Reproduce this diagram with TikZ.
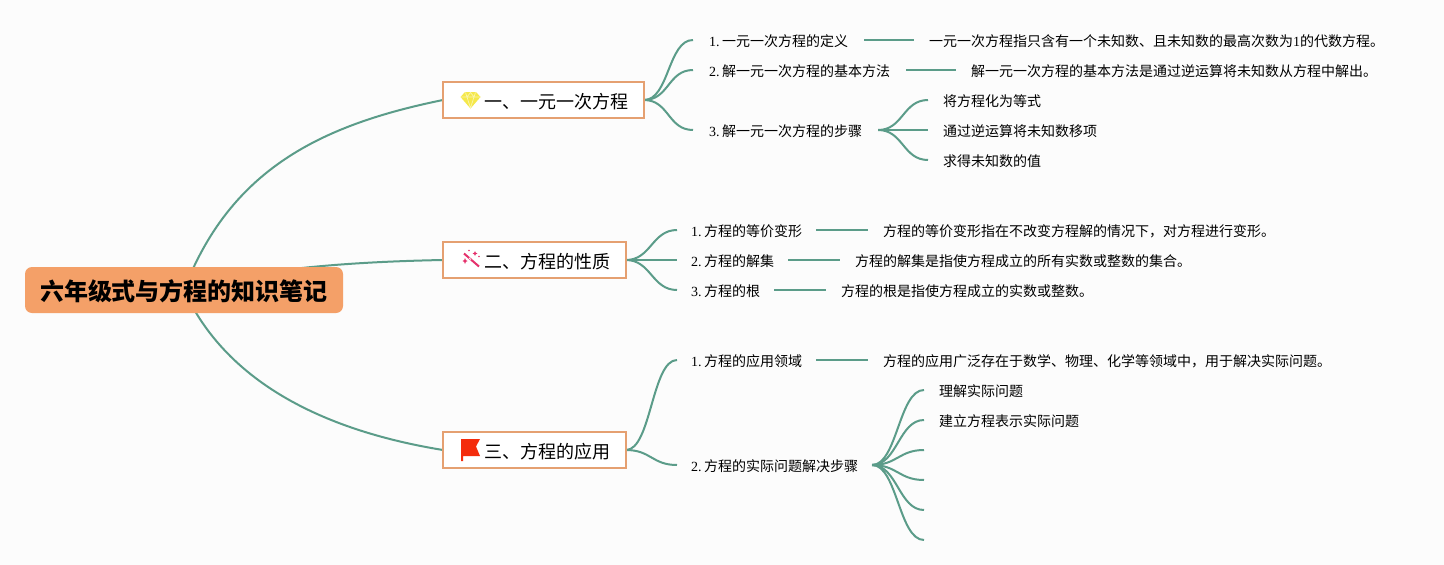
\documentclass[tikz,border=0pt]{standalone}
\usepackage{fontspec}
\setmainfont{Liberation Serif}
\newfontfamily\cjk{Noto Sans CJK SC}
\usetikzlibrary{calc,backgrounds}
\definecolor{linkc}{HTML}{5B9C89}
\definecolor{rootc}{HTML}{F4A068}
\definecolor{edgec}{HTML}{E5A071}
\definecolor{bgc}{HTML}{FCFCFC}
\definecolor{gemc}{HTML}{F5E84A}
\definecolor{wandc}{HTML}{E5326C}
\definecolor{flagc}{HTML}{F42C0C}
\tikzset{
  x=1pt,y=-1pt,
  link/.style={draw=linkc,line width=2pt},
  bez/.style={to path={.. controls ($(\tikztostart)+(#1,0)$) and ($(\tikztotarget)+(-#1,0)$) .. (\tikztotarget)}},
  bez/.default=25,
  rootbox/.style={fill=rootc,rounded corners=7pt,minimum width=318pt,minimum height=46pt,inner sep=0pt,outer sep=0pt,text height=24pt,text depth=3pt,font=\cjk\bfseries\fontsize{24}{28}\selectfont,text=black},
  branchbox/.style={draw=edgec,line width=2pt,fill=white,anchor=west,minimum height=36pt,inner xsep=15.25pt,inner ysep=0pt,outer sep=0pt,text height=18pt,text depth=1.4pt,font=\cjk\fontsize{18}{22}\selectfont,text=black},
  leaf/.style={anchor=west,inner xsep=15pt,inner ysep=0pt,outer sep=0pt,text height=14pt,text depth=1.4pt,font=\fontsize{14}{18}\selectfont,text=black},
}
\newcommand{\ic}{\hspace*{26.5pt}}
\newcommand{\nm}[1]{{\rmfamily #1}\hspace{2.6pt}\cjk }
\begin{document}
\begin{tikzpicture}
\useasboundingbox (0,0) rectangle (1444,565);
% nodes
\node[rootbox] (root) at (184,290) {六年级式与方程的知识笔记};
\node[branchbox] (b1) at (443,100) {\ic 一、一元一次方程};
\node[branchbox] (b2) at (443,260) {\ic 二、方程的性质};
\node[branchbox] (b3) at (443,450) {\ic 三、方程的应用};
% branch 1
\node[leaf,inner xsep=16pt] (a1) at (693,40) {\nm{1.}一元一次方程的定义};
\node[leaf] (a1d) at (914,40) {\cjk 一元一次方程指只含有一个未知数、且未知数的最高次数为{\rmfamily 1}的代数方程。};
\node[leaf,inner xsep=16pt] (a2) at (693,70) {\nm{2.}解一元一次方程的基本方法};
\node[leaf] (a2d) at (956,70) {\cjk 解一元一次方程的基本方法是通过逆运算将未知数从方程中解出。};
\node[leaf,inner xsep=16pt] (a3) at (693,130) {\nm{3.}解一元一次方程的步骤};
\node[leaf] (s1) at (928,100) {\cjk 将方程化为等式};
\node[leaf] (s2) at (928,130) {\cjk 通过逆运算将未知数移项};
\node[leaf] (s3) at (928,160) {\cjk 求得未知数的值};
% branch 2
\node[leaf,inner xsep=14pt] (c1) at (677,230) {\nm{1.}方程的等价变形};
\node[leaf] (c1d) at (868,230) {\cjk 方程的等价变形指在不改变方程解的情况下，对方程进行变形。};
\node[leaf,inner xsep=14pt] (c2) at (677,260) {\nm{2.}方程的解集};
\node[leaf] (c2d) at (840,260) {\cjk 方程的解集是指使方程成立的所有实数或整数的集合。};
\node[leaf,inner xsep=14pt] (c3) at (677,290) {\nm{3.}方程的根};
\node[leaf] (c3d) at (826,290) {\cjk 方程的根是指使方程成立的实数或整数。};
% branch 3
\node[leaf,inner xsep=14pt] (e1) at (677,360) {\nm{1.}方程的应用领域};
\node[leaf] (e1d) at (868,360) {\cjk 方程的应用广泛存在于数学、物理、化学等领域中，用于解决实际问题。};
\node[leaf,inner xsep=14pt] (e2) at (677,465) {\nm{2.}方程的实际问题解决步骤};
\node[leaf] (f1) at (924,390) {\cjk 理解实际问题};
\node[leaf] (f2) at (924,420) {\cjk 建立方程表示实际问题};
\coordinate (f3) at (924,450);
\coordinate (f4) at (924,480);
\coordinate (f5) at (924,510);
\coordinate (f6) at (924,540);
% gem icon
\fill[gemc] (465,92) -- (476,92) -- (480.5,97) -- (470.5,108.5) -- (460.5,97) -- cycle;
\draw[white!55!gemc,line width=.7pt] (461,97) -- (480,97) (465.5,92.5) -- (467,97) -- (470.5,108) -- (474,97) -- (475.5,92.5) (467,97) -- (470.5,92.5) -- (474,97);
% wand icon
\draw[wandc,line width=2pt] (464,253.5) -- (479,266.5);
\draw[white,line width=.8pt] (469,257.8) -- (471,259.6);
\fill[wandc] (475,251) -- (475.8,252.7) -- (477.5,253.5) -- (475.8,254.3) -- (475,256) -- (474.2,254.3) -- (472.5,253.5) -- (474.2,252.7) -- cycle;
\fill[wandc] (465,258) -- (465.8,260) -- (467.5,261) -- (465.8,262) -- (465,264) -- (464.2,262) -- (462.5,261) -- (464.2,260) -- cycle;
\fill[wandc] (479,256.5) circle[radius=.9pt];
\fill[wandc] (469,250.5) circle[radius=.8pt];
% flag icon
\fill[flagc] (461,439) -- (480,439) -- (476,446.5) -- (480,456) -- (463,456) -- (463,461) -- (461,461) -- cycle;
% connectors
\begin{scope}[on background layer]
\fill[bgc] (0,0) rectangle (1444,565);
\draw[link] (root.center) .. controls (230,170) and (320,125) .. (b1.west);
\draw[link] (root.center) .. controls (250,270) and (340,262) .. (b2.west);
\draw[link] (root.center) .. controls (225,380) and (320,430) .. (b3.west);
\draw[link] (b1.east) to[bez] (a1.west);
\draw[link] (b1.east) to[bez] (a2.west);
\draw[link] (b1.east) to[bez] (a3.west);
\draw[link] (a1.east) -- (a1d.west);
\draw[link] (a2.east) -- (a2d.west);
\draw[link] (a3.east) to[bez] (s1.west);
\draw[link] (a3.east) to[bez] (s2.west);
\draw[link] (a3.east) to[bez] (s3.west);
\draw[link] (b2.east) to[bez] (c1.west);
\draw[link] (b2.east) to[bez] (c2.west);
\draw[link] (b2.east) to[bez] (c3.west);
\draw[link] (c1.east) -- (c1d.west);
\draw[link] (c2.east) -- (c2d.west);
\draw[link] (c3.east) -- (c3d.west);
\draw[link] (b3.east) to[bez] (e1.west);
\draw[link] (b3.east) to[bez] (e2.west);
\draw[link] (e1.east) -- (e1d.west);
\draw[link] (e2.east) to[bez] (f1.west);
\draw[link] (e2.east) to[bez] (f2.west);
\draw[link] (e2.east) to[bez] (f3);
\draw[link] (e2.east) to[bez] (f4);
\draw[link] (e2.east) to[bez] (f5);
\draw[link] (e2.east) to[bez] (f6);
\end{scope}
\end{tikzpicture}
\end{document}
